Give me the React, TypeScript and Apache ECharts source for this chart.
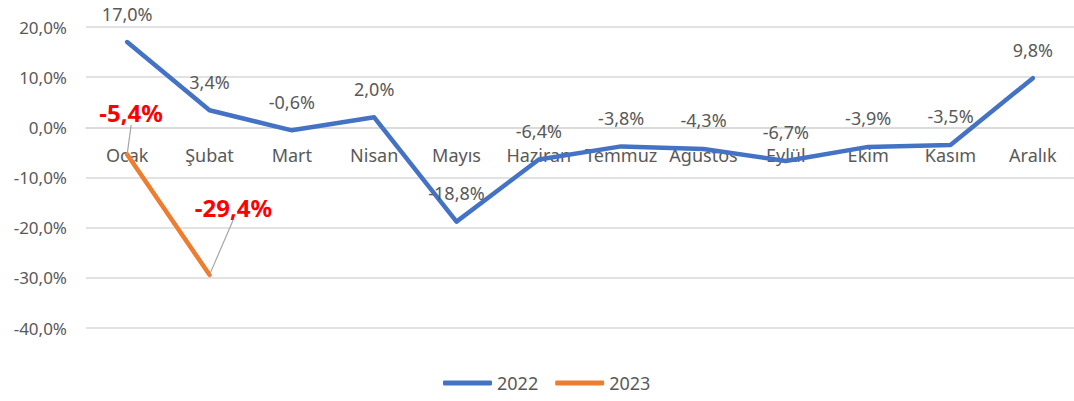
import React, { useEffect, useRef } from "react";
import * as echarts from "echarts";

const months = ["Ocak", "Şubat", "Mart", "Nisan", "Mayıs", "Haziran", "Temmuz", "Ağustos", "Eylül", "Ekim", "Kasım", "Aralık"];
const values2022 = [17.0, 3.4, -0.6, 2.0, -18.8, -6.4, -3.8, -4.3, -6.7, -3.9, -3.5, 9.8];
const values2023 = [-5.4, -29.4];
const seriesNames = ["2022", "2023"];
const yMin = -40;
const yMax = 20;
const yStep = 10;

const FONT = "'Noto Sans', 'Open Sans', sans-serif";
const GRID_H = 301;
const redLabelShift = [
  [4, -24],
  [24, -50],
];

const fmt = (v: number) => v.toFixed(1).replace(".", ",") + "%";

export default function App() {
  const ref = useRef<HTMLDivElement>(null);
  useEffect(() => {
    document.body.style.margin = "0";
    if (!ref.current) return;
    const chart = echarts.init(ref.current, undefined, { renderer: "svg" });
    const zeroOffset = -GRID_H * (0 - yMin) / (yMax - yMin);
    chart.setOption({
      animation: false,
      backgroundColor: "#ffffff",
      textStyle: { fontFamily: FONT },
      grid: { left: 86, top: 27, width: 994, height: GRID_H, containLabel: false },
      legend: {
        data: seriesNames,
        left: 443,
        top: 374,
        padding: 0,
        itemWidth: 49,
        itemHeight: 5,
        itemGap: 17,
        icon: "roundRect",
        textStyle: { color: "#595959", fontSize: 18, fontFamily: FONT },
      },
      xAxis: {
        type: "category",
        data: months,
        boundaryGap: true,
        position: "bottom",
        offset: zeroOffset,
        axisLine: { onZero: false, lineStyle: { color: "#d9d9d9", width: 1.5 } },
        axisTick: { show: false },
        axisLabel: { color: "#595959", fontSize: 18, margin: 19, interval: 0, fontFamily: FONT },
        splitLine: { show: false },
      },
      yAxis: {
        type: "value",
        min: yMin,
        max: yMax,
        interval: yStep,
        axisLine: { show: false },
        axisTick: { show: false },
        axisLabel: { color: "#595959", fontSize: 17, margin: 19, formatter: (v: number) => fmt(v), fontFamily: FONT },
        splitLine: { lineStyle: { color: "#d9d9d9", width: 1.5 } },
      },
      series: [
        {
          name: seriesNames[0],
          type: "line",
          data: values2022,
          color: "#4472C4",
          symbol: "circle",
          symbolSize: 1,
          showSymbol: true,
          lineStyle: { width: 4.5, color: "#4472C4", cap: "round", join: "round" },
          itemStyle: { color: "#4472C4" },
          label: {
            show: true,
            position: "top",
            distance: 19,
            color: "#595959",
            fontSize: 18,
            fontFamily: FONT,
            formatter: (p: any) => fmt(p.value),
          },
          z: 3,
        },
        {
          name: seriesNames[1],
          type: "line",
          data: values2023,
          color: "#ED7D31",
          symbol: "circle",
          symbolSize: 1,
          showSymbol: true,
          lineStyle: { width: 4.5, color: "#ED7D31", cap: "round", join: "round" },
          itemStyle: { color: "#ED7D31" },
          label: {
            show: true,
            position: "top",
            distance: 5,
            color: "#FF0000",
            fontSize: 24,
            fontWeight: "bold",
            fontFamily: FONT,
            formatter: (p: any) => fmt(p.value),
          },
          labelLine: { show: true, lineStyle: { color: "#a6a6a6", width: 1.2 } },
          labelLayout: (params: any) => {
            const s = redLabelShift[params.dataIndex] || [0, 0];
            return { dx: s[0], dy: s[1] };
          },
          z: 4,
        },
      ],
    });
    return () => chart.dispose();
  }, []);
  return <div ref={ref} style={{ width: 1074, height: 401 }} />;
}
